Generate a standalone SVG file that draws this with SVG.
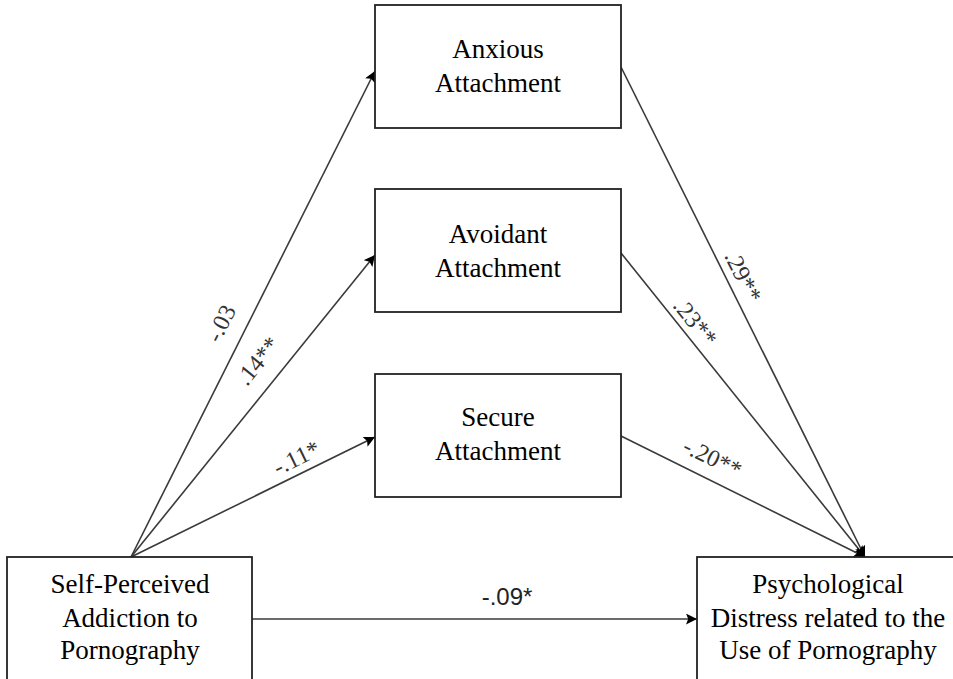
<svg xmlns="http://www.w3.org/2000/svg" width="953" height="679" viewBox="0 0 953 679">
<defs>
<marker id="ah" viewBox="0 0 10 10" refX="10" refY="5" markerWidth="12" markerHeight="11" markerUnits="userSpaceOnUse" orient="auto">
<path d="M0,0 L10,5 L0,10 L2,5 Z" fill="#000"/>
</marker>
</defs>
<style>
.box{fill:#fff;stroke:#222;stroke-width:1.8}
.t{font-family:"Liberation Serif","Times New Roman",serif;font-size:27px;fill:#000;text-anchor:middle}
.ln{stroke:#3a3a3a;stroke-width:1.6;fill:none}
.lb{font-family:"Liberation Serif","Times New Roman",serif;font-size:24px;fill:#333;text-anchor:middle}
.lbs{font-family:"Liberation Sans",Arial,sans-serif;font-size:24px;fill:#222;text-anchor:middle}
</style>
<rect width="953" height="679" fill="#fff"/>
<g id="connectors">
<line class="ln" x1="131" y1="557" x2="375" y2="71" marker-end="url(#ah)"/>
<line class="ln" x1="131" y1="557" x2="375" y2="255" marker-end="url(#ah)"/>
<line class="ln" x1="131" y1="557" x2="375" y2="437" marker-end="url(#ah)"/>
<line class="ln" x1="621" y1="67" x2="865" y2="557" marker-end="url(#ah)"/>
<line class="ln" x1="621" y1="253" x2="865" y2="557" marker-end="url(#ah)"/>
<line class="ln" x1="621" y1="436" x2="865" y2="557" marker-end="url(#ah)"/>
<line class="ln" x1="252" y1="619" x2="697" y2="619" marker-end="url(#ah)"/>
<text class="lb" transform="translate(228,327) rotate(-63.4)">-.03</text>
<text class="lb" transform="translate(264,366) rotate(-51)">.14**</text>
<text class="lb" transform="translate(300,465) rotate(-26)">-.11*</text>
<text class="lb" transform="translate(736,280) rotate(63.4)">.29**</text>
<text class="lb" transform="translate(689,327) rotate(51)">.23**</text>
<text class="lb" transform="translate(709,465) rotate(26)">-.20**</text>
<text class="lbs" x="507" y="605">-.09*</text>
</g>
<g id="anxious">
<rect class="box" x="375" y="5" width="246" height="123"/>
<text class="t" x="498" y="58">Anxious</text>
<text class="t" x="498" y="92">Attachment</text>
</g>
<g id="avoidant">
<rect class="box" x="375" y="189" width="246" height="123"/>
<text class="t" x="498" y="243">Avoidant</text>
<text class="t" x="498" y="277">Attachment</text>
</g>
<g id="secure">
<rect class="box" x="375" y="374" width="246" height="123"/>
<text class="t" x="498" y="426">Secure</text>
<text class="t" x="498" y="460">Attachment</text>
</g>
<g id="predictor">
<rect class="box" x="7" y="557" width="245" height="130"/>
<text class="t" x="130" y="593">Self-Perceived</text>
<text class="t" x="130" y="627">Addiction to</text>
<text class="t" x="130" y="659">Pornography</text>
</g>
<g id="outcome">
<rect class="box" x="697" y="557" width="262" height="130"/>
<text class="t" x="828" y="593">Psychological</text>
<text class="t" x="828" y="627">Distress related to the</text>
<text class="t" x="828" y="659">Use of Pornography</text>
</g>
</svg>
